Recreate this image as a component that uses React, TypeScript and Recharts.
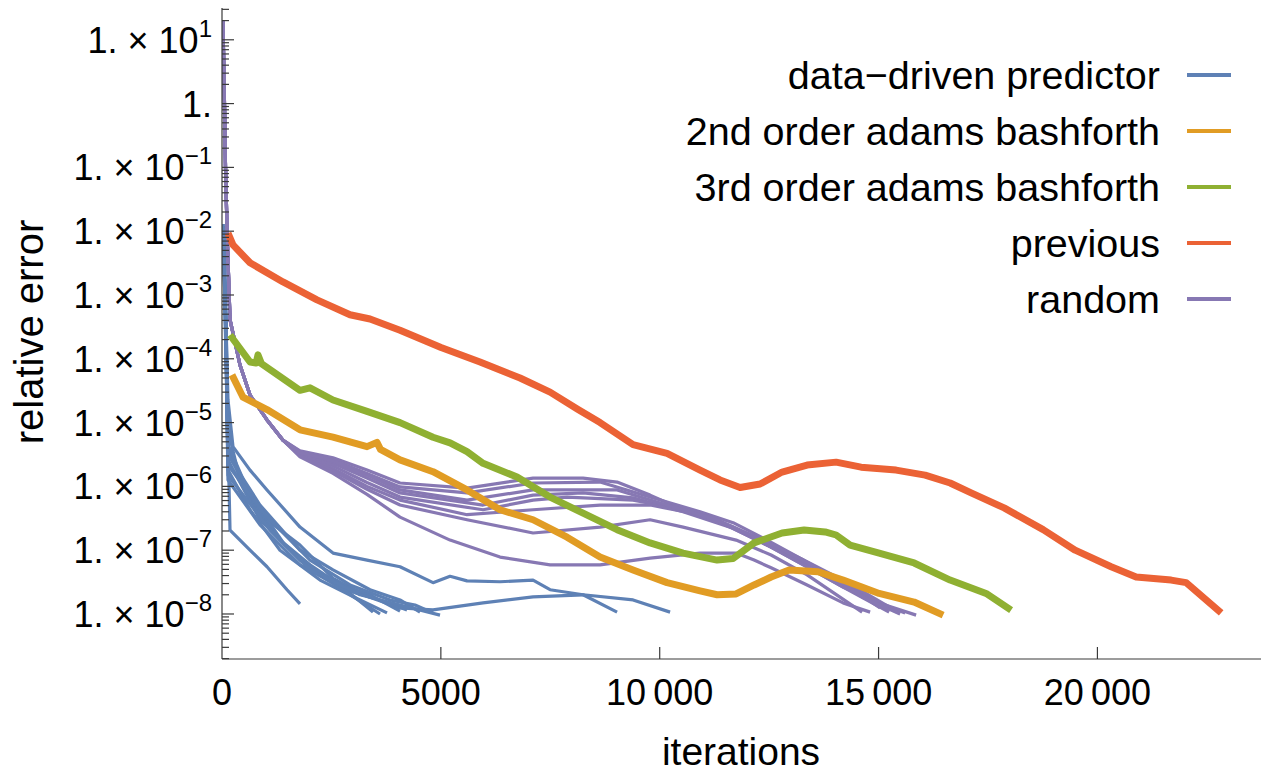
import React from 'react';
import { LineChart, Line, XAxis, YAxis, Legend } from 'recharts';

type Pt = [number, number];

// axis ranges and tick labels
const X_MAX = 23760;
const Y_MIN = 1.97e-9;
const Y_MAX = 31.5;
const X_TICKS = [0, 5000, 10000, 15000, 20000];
const X_TICK_LABELS = ['0', '5000', '10\u2009000', '15\u2009000', '20\u2009000'];
const Y_EXPONENTS = [-8, -7, -6, -5, -4, -3, -2, -1, 0, 1];

const SERIES_LABELS = [
  'data\u2212driven predictor',
  '2nd order adams bashforth',
  '3rd order adams bashforth',
  'previous',
  'random',
];
const SERIES_COLORS = ['#5e81b5', '#e19c24', '#8fb032', '#eb6235', '#8778b3'];

// data-driven predictor runs: [iteration, relative error]
const DDP_1: Pt[] = [[30, 1.1e-2], [90, 4e-4], [137, 2.26e-5], [251, 4.2e-6], [640, 1.8e-6], [1028, 8.8e-7], [1782, 2.3e-7], [2536, 9.0e-8], [3313, 7.0e-8], [4067, 5.5e-8], [4821, 3.1e-8], [5210, 3.9e-8], [5598, 3.3e-8], [6352, 3.2e-8], [7106, 3.4e-8], [7495, 2.4e-8], [8249, 2.0e-8], [9026, 1.07e-8]];
const DDP_2: Pt[] = [[30, 1.0e-2], [90, 2e-4], [137, 7.7e-6], [411, 1.26e-6], [1028, 3.0e-7], [1782, 1.2e-7], [2536, 3.6e-8], [3313, 1.9e-8], [4067, 1.24e-8], [4821, 1.16e-8], [5964, 1.49e-8], [7106, 1.85e-8], [8249, 2.0e-8], [9391, 1.66e-8], [10237, 1.07e-8]];
const DDP_3: Pt[] = [[30, 1.3e-2], [90, 1e-4], [137, 5.3e-6], [183, 2.07e-7], [640, 1.0e-7], [1028, 5.5e-8], [1485, 2.4e-8], [1782, 1.44e-8]];
const DDP_4: Pt[] = [[30, 9e-3], [90, 3e-4], [137, 3.7e-6], [640, 6.1e-7], [1325, 1.44e-7], [2011, 5.9e-8], [2696, 2.85e-8], [3450, 1.07e-8]];
const DDP_5: Pt[] = [[30, 1.2e-2], [90, 5e-4], [137, 4.5e-6], [640, 7.3e-7], [1440, 1.2e-7], [2239, 4.1e-8], [2925, 2.0e-8], [3610, 1.0e-8]];
const DDP_6: Pt[] = [[30, 8e-3], [90, 2e-4], [137, 1.8e-6], [640, 4.3e-7], [1325, 1.0e-7], [2239, 3.4e-8], [3153, 1.66e-8], [3770, 1.04e-8]];
const DDP_7: Pt[] = [[30, 1.1e-2], [90, 3e-4], [137, 2.6e-6], [868, 3.0e-7], [1782, 7.0e-8], [2696, 2.85e-8], [3382, 2.0e-8], [4067, 1.11e-8]];
const DDP_8: Pt[] = [[30, 1.0e-2], [90, 1.5e-4], [137, 1.26e-6], [868, 2.5e-7], [1782, 5.9e-8], [2811, 2.4e-8], [3610, 1.66e-8], [4227, 1.16e-8]];
const DDP_9: Pt[] = [[30, 1.2e-2], [90, 4e-4], [137, 3.1e-6], [868, 5.1e-7], [1782, 1.0e-7], [2536, 4.9e-8], [3382, 2.4e-8], [4067, 1.66e-8], [4524, 1.07e-8]];
const DDP_10: Pt[] = [[30, 9e-3], [90, 2.5e-4], [137, 2.16e-6], [983, 3.6e-7], [2011, 7.0e-8], [2925, 2.85e-8], [3839, 1.66e-8], [4410, 1.38e-8], [4821, 1.04e-8]];
const DDP_11: Pt[] = [[30, 1.0e-2], [90, 3e-4], [137, 1.5e-6], [1097, 2.07e-7], [2011, 4.9e-8], [3153, 2.0e-8], [4067, 1.38e-8], [4981, 9.6e-9]];

// 2nd order adams bashforth
const AB2: Pt[] = [[228, 5.6e-5], [480, 2.5e-5], [1028, 1.6e-5], [1782, 7.7e-6], [2536, 5.9e-6], [3313, 4.2e-6], [3540, 4.9e-6], [3620, 3.8e-6], [4067, 2.6e-6], [4821, 1.7e-6], [5598, 8.8e-7], [6352, 4.3e-7], [7106, 3.0e-7], [7883, 1.6e-7], [8637, 7.8e-8], [9391, 4.9e-8], [10168, 3.1e-8], [10922, 2.3e-8], [11311, 2.0e-8], [11745, 2.06e-8], [12156, 2.85e-8], [12545, 3.8e-8], [12956, 4.9e-8], [13619, 4.6e-8], [14190, 3.4e-8], [15013, 2.1e-8], [15812, 1.54e-8], [16475, 9.6e-9]];

// 3rd order adams bashforth
const AB3: Pt[] = [[183, 2.36e-4], [640, 8.9e-5], [780, 8.6e-5], [823, 1.15e-4], [900, 8.4e-5], [1782, 3.2e-5], [2011, 3.5e-5], [2536, 2.26e-5], [3313, 1.5e-5], [4067, 1.0e-5], [4821, 5.9e-6], [5210, 4.8e-6], [5598, 3.5e-6], [5964, 2.3e-6], [6741, 1.4e-6], [7495, 6.8e-7], [8249, 3.8e-7], [9026, 2.1e-7], [9780, 1.3e-7], [10534, 9.0e-8], [11311, 7.0e-8], [11677, 7.4e-8], [12156, 1.3e-7], [12796, 1.86e-7], [13299, 2.07e-7], [13779, 1.93e-7], [14030, 1.73e-7], [14350, 1.2e-7], [15013, 9.0e-8], [15812, 6.3e-8], [16635, 3.4e-8], [17457, 2.1e-8], [18028, 1.15e-8]];

// previous
const PREV: Pt[] = [[137, 9.3e-3], [251, 6.1e-3], [640, 3.2e-3], [1394, 1.6e-3], [2171, 8.4e-4], [2925, 4.9e-4], [3382, 4.2e-4], [4067, 2.8e-4], [5004, 1.5e-4], [5895, 8.9e-5], [6809, 5.0e-5], [7495, 3.0e-5], [8135, 1.6e-5], [8637, 1.0e-5], [9391, 4.5e-6], [10168, 3.3e-6], [10922, 1.8e-6], [11379, 1.26e-6], [11836, 9.6e-7], [12293, 1.09e-6], [12796, 1.68e-6], [13367, 2.16e-6], [14030, 2.4e-6], [14601, 2.0e-6], [15401, 1.8e-6], [16064, 1.5e-6], [16635, 1.13e-6], [17115, 7.9e-7], [17869, 4.6e-7], [18760, 2.1e-7], [19491, 1.0e-7], [20314, 5.5e-8], [20885, 3.8e-8], [21685, 3.4e-8], [22027, 3.1e-8], [22827, 1.04e-8]];

// random runs share the same start
const RAND_HEAD: Pt[] = [[20, 20], [45, 3], [80, 0.1], [120, 8e-3], [183, 4.1e-4], [411, 8.0e-5], [640, 2.7e-5], [1028, 1.1e-5], [1394, 5.3e-6]];
const RAND_1: Pt[] = [[1782, 3.6e-6], [2536, 2.8e-6], [3313, 1.8e-6], [4067, 1.13e-6], [5598, 9.4e-7], [7106, 1.35e-6], [8249, 1.35e-6], [9026, 1.17e-6], [9780, 7.3e-7], [10534, 4.3e-7], [11677, 2.3e-7], [12453, 1.2e-7], [13207, 7.0e-8], [14190, 3.1e-8], [15013, 1.49e-8], [15607, 1.04e-8]];
const RAND_2: Pt[] = [[1782, 3.5e-6], [2536, 2.6e-6], [3313, 1.6e-6], [4067, 9.8e-7], [5598, 7.9e-7], [7106, 1.13e-6], [8637, 1.17e-6], [9780, 6.8e-7], [10922, 4.0e-7], [11677, 2.7e-7], [12453, 1.44e-7], [13207, 7.5e-8], [14190, 3.4e-8], [15241, 1.29e-8], [15447, 1.04e-8]];
const RAND_3: Pt[] = [[1782, 3.3e-6], [2536, 2.3e-6], [3313, 1.35e-6], [4067, 7.9e-7], [5964, 5.1e-7], [7106, 7.3e-7], [8249, 7.9e-7], [9391, 6.6e-7], [10534, 4.0e-7], [11677, 2.2e-7], [12453, 1.2e-7], [13207, 6.3e-8], [14190, 2.65e-8], [15013, 1.49e-8], [15858, 9.6e-9]];
const RAND_4: Pt[] = [[1782, 3.2e-6], [2536, 2.1e-6], [3313, 1.15e-6], [4067, 6.8e-7], [5964, 4.3e-7], [7106, 6.1e-7], [7883, 6.8e-7], [9391, 6.1e-7], [10922, 3.9e-7], [11745, 2.07e-7], [12545, 1.12e-7], [13367, 5.5e-8], [14190, 2.65e-8], [15241, 1.07e-8]];
const RAND_5: Pt[] = [[1782, 3.1e-6], [2536, 1.9e-6], [3313, 1.0e-6], [4067, 6.1e-7], [5598, 3.6e-7], [7106, 4.3e-7], [8637, 5.1e-7], [9780, 5.1e-7], [10922, 3.6e-7], [12065, 1.73e-7], [13207, 7.5e-8], [14190, 3.1e-8], [15035, 1.24e-8]];
const RAND_6: Pt[] = [[1782, 3.0e-6], [2536, 1.75e-6], [3313, 9.0e-7], [4067, 5.1e-7], [5598, 3.0e-7], [7106, 1.86e-7], [8637, 2.3e-7], [9780, 3.0e-7], [10534, 2.3e-7], [11745, 1.44e-7], [12545, 8.4e-8], [13367, 4.1e-8], [14624, 1.07e-8]];
const RAND_7: Pt[] = [[1782, 2.9e-6], [2536, 1.6e-6], [3313, 7.5e-7], [4067, 3.3e-7], [5210, 1.44e-7], [6352, 7.8e-8], [7495, 5.9e-8], [8637, 5.9e-8], [9780, 7.5e-8], [10922, 9.0e-8], [11745, 9.0e-8], [12156, 7.0e-8], [12545, 5.3e-8], [13367, 2.85e-8], [14190, 1.49e-8], [14807, 1.07e-8]];
const RAND_8: Pt[] = [[1782, 3.4e-6], [2536, 2.5e-6], [3313, 1.5e-6], [4067, 8.8e-7], [5598, 6.1e-7], [7106, 8.8e-7], [9026, 8.8e-7], [10168, 5.1e-7], [11311, 3.0e-7], [12453, 1.35e-7], [13687, 4.9e-8], [14624, 1.85e-8], [15492, 1.0e-8]];

const DDP_RUNS = [DDP_1, DDP_2, DDP_3, DDP_4, DDP_5, DDP_6, DDP_7, DDP_8, DDP_9, DDP_10, DDP_11];
const RAND_RUNS = [RAND_1, RAND_2, RAND_3, RAND_4, RAND_5, RAND_6, RAND_7, RAND_8].map((r) => [...RAND_HEAD, ...r]);

const toRows = (pts: Pt[]) => pts.map(([x, y]) => ({ x, y }));

const FONT = '"Liberation Sans", Arial, sans-serif';
const AXIS_COLOR = '#3a3a3a';
const Y_TICK_MARGIN = 10;
const THIN = 3.2;
const THICK = 7;

// every log tick 1..9 x 10^k inside the range
const Y_TICKS: number[] = [];
for (let e = -9; e <= 1; e++) {
  for (let m = 1; m <= 9; m++) {
    const v = m * Math.pow(10, e);
    if (v >= Y_MIN && v <= Y_MAX) Y_TICKS.push(v);
  }
}

function YTick(props: any) {
  const { x, y, payload } = props;
  const lg = Math.log10(payload.value);
  const exp = Math.round(lg);
  const major = Math.abs(lg - exp) < 1e-6 && Y_EXPONENTS.includes(exp);
  const axisX = x + Y_TICK_MARGIN;
  return (
    <g>
      <line x1={axisX} x2={axisX + (major ? 12 : 7)} y1={y} y2={y} stroke={AXIS_COLOR} strokeWidth={1.2} />
      {major && (
        <text x={x} y={y + 13} textAnchor="end" fontSize={36} fill="#000" fontFamily={FONT}>
          {exp === 0 ? (
            '1.'
          ) : (
            <>
              {'1. \u00d7 10'}
              <tspan dy={-16} fontSize={24}>{exp < 0 ? '\u2212' + -exp : String(exp)}</tspan>
            </>
          )}
        </text>
      )}
    </g>
  );
}

function XTick(props: any) {
  const { x, y, payload } = props;
  const idx = X_TICKS.indexOf(payload.value);
  return (
    <g>
      {payload.value !== 0 && <line x1={x} x2={x} y1={y} y2={y - 12} stroke={AXIS_COLOR} strokeWidth={1.2} />}
      <text x={x} y={y + 46} textAnchor="middle" fontSize={36} fill="#000" fontFamily={FONT}>
        {X_TICK_LABELS[idx]}
      </text>
    </g>
  );
}

function LegendRows() {
  return (
    <div style={{ fontFamily: FONT }}>
      {SERIES_LABELS.map((label, i) => (
        <div key={label} style={{ height: 56, display: 'flex', justifyContent: 'flex-end', alignItems: 'center' }}>
          <span style={{ fontSize: 39.5, lineHeight: '56px', color: '#000', whiteSpace: 'nowrap' }}>{label}</span>
          <div style={{ width: 44, height: 4, background: SERIES_COLORS[i], marginLeft: 27 }} />
        </div>
      ))}
    </div>
  );
}

export default function App() {
  return (
    <div style={{ position: 'absolute', left: 0, top: 0, width: 1261, height: 772, overflow: 'hidden', background: '#fff' }}>
      <LineChart width={1266} height={772} margin={{ top: 8, right: 4, bottom: 0, left: 0 }} style={{ fontFamily: FONT }}>
        <XAxis
          dataKey="x"
          type="number"
          domain={[0, X_MAX]}
          allowDataOverflow
          ticks={X_TICKS}
          interval={0}
          height={113}
          tickSize={0}
          tickMargin={0}
          tickLine={false}
          tick={XTick}
          axisLine={{ stroke: AXIS_COLOR, strokeWidth: 1.2 }}
          label={() => (
            <text x={741} y={765} textAnchor="middle" fontSize={39} fill="#000" fontFamily={FONT}>
              iterations
            </text>
          )}
        />
        <XAxis
          xAxisId="top"
          orientation="top"
          type="number"
          domain={[0, X_MAX]}
          height={0}
          tick={false}
          tickLine={false}
          axisLine={{ stroke: AXIS_COLOR, strokeWidth: 1.2 }}
        />
        <YAxis
          type="number"
          scale="log"
          domain={[Y_MIN, Y_MAX]}
          allowDataOverflow
          ticks={Y_TICKS}
          interval={0}
          width={222}
          tickSize={0}
          tickMargin={Y_TICK_MARGIN}
          tickLine={false}
          tick={YTick}
          axisLine={{ stroke: AXIS_COLOR, strokeWidth: 1.2 }}
          label={() => (
            <text x={43} y={332} transform="rotate(-90, 43, 332)" textAnchor="middle" fontSize={40} fill="#000" fontFamily={FONT}>
              relative error
            </text>
          )}
        />
        <Legend
          layout="vertical"
          align="center"
          verticalAlign="middle"
          wrapperStyle={{ top: 47, left: 560, width: 671, height: 280 }}
          content={() => <LegendRows />}
        />
        {RAND_RUNS.map((run, i) => (
          <Line
            key={'rand' + i}
            data={toRows(run)}
            dataKey="y"
            stroke={SERIES_COLORS[4]}
            strokeWidth={THIN}
            dot={false}
            isAnimationActive={false}
            legendType="none"
            strokeLinejoin="round"
          />
        ))}
        {DDP_RUNS.map((run, i) => (
          <Line
            key={'ddp' + i}
            data={toRows(run)}
            dataKey="y"
            stroke={SERIES_COLORS[0]}
            strokeWidth={THIN}
            dot={false}
            isAnimationActive={false}
            legendType="none"
            strokeLinejoin="round"
          />
        ))}
        <Line data={toRows(AB2)} dataKey="y" stroke={SERIES_COLORS[1]} strokeWidth={THICK} dot={false} isAnimationActive={false} legendType="none" strokeLinejoin="round" />
        <Line data={toRows(AB3)} dataKey="y" stroke={SERIES_COLORS[2]} strokeWidth={THICK} dot={false} isAnimationActive={false} legendType="none" strokeLinejoin="round" />
        <Line data={toRows(PREV)} dataKey="y" stroke={SERIES_COLORS[3]} strokeWidth={THICK} dot={false} isAnimationActive={false} legendType="none" strokeLinejoin="round" />
      </LineChart>
    </div>
  );
}
